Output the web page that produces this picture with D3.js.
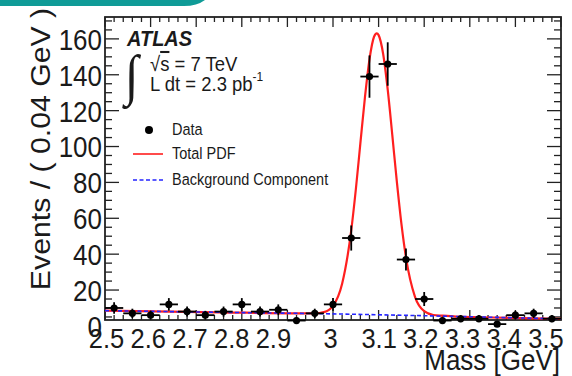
<!DOCTYPE html>
<html>
<head>
<meta charset="utf-8">
<script src="https://cdn.jsdelivr.net/npm/d3@7"></script>
<style>
body { margin: 0; background: #fff; }
text { font-family: "Liberation Sans", Arial, sans-serif; fill: #1a1a1a; }
</style>
</head>
<body>
<div id="chart"></div>
<script>
// data
var massBins = [2.52, 2.56, 2.60, 2.64, 2.68, 2.72, 2.76, 2.80, 2.84, 2.88, 2.92, 2.96, 3.00,
                3.04, 3.08, 3.12, 3.16, 3.20, 3.24, 3.28, 3.32, 3.36, 3.40, 3.44, 3.48];
var events = [10, 7, 6, 12, 8, 6, 8, 12, 8, 9, 3, 7, 12,
              49, 139, 146, 37, 15, 3, 4, 4, 1, 6, 7, 4];
var eventErrors = [3.2, 2.6, 2.4, 3.5, 2.8, 2.4, 2.8, 3.5, 2.8, 3.0, 1.7, 2.6, 3.5,
                   7.0, 11.8, 12.1, 6.1, 3.9, 1.7, 2.0, 2.0, 1.0, 2.4, 2.6, 2.0];
var binHalfWidth = 0.02;

var pdfMass = [2.50, 2.75, 2.96, 2.98, 3.00, 3.02, 3.04, 3.05, 3.06, 3.07, 3.08, 3.09, 3.096,
               3.10, 3.11, 3.12, 3.13, 3.14, 3.15, 3.16, 3.18, 3.20, 3.22, 3.24, 3.27, 3.35, 3.50];
var pdfTotal = [8.5, 7.6, 7.0, 7.7, 11.2, 23.5, 53.3, 75.9, 101.7, 127.3, 148.6, 161.2, 163.1,
                162.1, 151.6, 131.7, 106.5, 80.4, 57.0, 38.2, 16.1, 8.2, 6.1, 5.7, 5.2, 4.7, 3.9];

var bkgMass = [2.50, 2.75, 3.00, 3.25, 3.50];
var bkgEvents = [8.5, 7.6, 6.7, 5.4, 3.9];

var xTickValues = [2.5, 2.6, 2.7, 2.8, 2.9, 3.0, 3.1, 3.2, 3.3, 3.4, 3.5];
var yTickValues = [0, 20, 40, 60, 80, 100, 120, 140, 160];

var W = 572, H = 376;
var SY = 1.12; // the picture is slightly stretched vertically
var frame = { left: 105, right: 561, top: 17, bottom: 320 };
var yLo = 3.3, yHi = 172.2;

var svg = d3.select("#chart").append("svg")
    .attr("width", W).attr("height", H);

var x = d3.scaleLinear().domain([2.5, 3.5]).range([frame.left, frame.right]);
var y = d3.scaleLinear().domain([yLo, yHi]).range([frame.bottom, frame.top]);

// teal tab at the top
svg.append("path")
    .attr("d", "M0,0H205Q197,6 184,6H0Z")
    .attr("fill", "#0f9b97");

function stretchedText(g, px, py, str) {
    return g.append("text")
        .attr("transform", "translate(" + px + "," + py + ") scale(1," + SY + ")")
        .text(str);
}

// ticks (inward, ROOT style)
var ticks = svg.append("g").attr("stroke", "#222").attr("stroke-width", 1.3);
d3.range(0, 51).forEach(function(i) {
    var v = 2.5 + i * 0.02;
    var len = (i % 5 === 0) ? 10 : 5;
    ticks.append("line").attr("x1", x(v)).attr("x2", x(v))
        .attr("y1", frame.bottom).attr("y2", frame.bottom - len);
    ticks.append("line").attr("x1", x(v)).attr("x2", x(v))
        .attr("y1", frame.top).attr("y2", frame.top + len);
});
d3.range(5, 171, 5).forEach(function(v) {
    var len = (v % 20 === 0) ? 14 : 7;
    ticks.append("line").attr("y1", y(v)).attr("y2", y(v))
        .attr("x1", frame.left).attr("x2", frame.left + len);
    ticks.append("line").attr("y1", y(v)).attr("y2", y(v))
        .attr("x1", frame.right).attr("x2", frame.right - len);
});

svg.append("rect")
    .attr("x", frame.left).attr("y", frame.top)
    .attr("width", frame.right - frame.left).attr("height", frame.bottom - frame.top)
    .attr("fill", "none").attr("stroke", "#222").attr("stroke-width", 1.8);

// x tick labels sit a little left of their ticks in the picture
function xLabelPos(v) {
    if (v < 2.95) return x(2.5) + 1 + (x(v) - x(2.5)) * 0.915;
    if (v < 3.05) return x(v) - 3;
    return x(3.1) + (x(v) - x(3.1)) * 0.915;
}

var xAxis = svg.append("g")
    .attr("transform", "translate(0," + frame.bottom + ")")
    .call(d3.axisBottom(x).tickValues(xTickValues).tickSize(0)
        .tickFormat(function(d) { return d3.format("~g")(+d.toFixed(1)); }));
xAxis.select(".domain").remove();
xAxis.selectAll("text")
    .attr("y", 0).attr("dy", 0)
    .attr("font-size", 25.5).attr("fill", "#1a1a1a")
    .attr("font-family", "Liberation Sans, Arial, sans-serif")
    .attr("transform", function(d) {
        return "translate(" + (xLabelPos(d) - x(d)) + ",28) scale(1," + SY + ")";
    });

var yAxis = svg.append("g")
    .attr("transform", "translate(" + frame.left + ",0)")
    .call(d3.axisLeft(y).tickValues(yTickValues).tickSize(0));
yAxis.select(".domain").remove();
yAxis.selectAll("text")
    .attr("x", 0).attr("dy", 0)
    .attr("font-size", 26).attr("fill", "#1a1a1a")
    .attr("font-family", "Liberation Sans, Arial, sans-serif")
    .attr("transform", "translate(-3,10.4) scale(1," + SY + ")");

// axis titles
svg.append("text")
    .attr("transform", "translate(50,149) scale(1," + SY + ") rotate(-90)")
    .attr("text-anchor", "middle")
    .attr("font-size", 27)
    .text("Events / ( 0.04 GeV )");

stretchedText(svg, 560, 370, "Mass [GeV]")
    .attr("text-anchor", "end").attr("font-size", 26);

// curves
var line = d3.line().curve(d3.curveMonotoneX);
svg.append("path")
    .attr("d", line(pdfMass.map(function(m, i) { return [x(m), y(pdfTotal[i])]; })))
    .attr("fill", "none").attr("stroke", "#ff1f1f").attr("stroke-width", 2.2);
svg.append("path")
    .attr("d", line(bkgMass.map(function(m, i) { return [x(m), y(bkgEvents[i])]; })))
    .attr("fill", "none").attr("stroke", "#2424ff").attr("stroke-width", 1.6)
    .attr("stroke-dasharray", "4,2.5");

// data points with error bars
var pts = svg.append("g").selectAll("g")
    .data(massBins.map(function(m, i) { return { m: m, n: events[i], e: eventErrors[i] }; }))
    .enter().append("g");
pts.append("line")
    .attr("x1", function(d) { return x(d.m - binHalfWidth); })
    .attr("x2", function(d) { return x(d.m + binHalfWidth); })
    .attr("y1", function(d) { return y(d.n); })
    .attr("y2", function(d) { return y(d.n); })
    .attr("stroke", "#000").attr("stroke-width", 1.8);
pts.append("line")
    .attr("x1", function(d) { return x(d.m); })
    .attr("x2", function(d) { return x(d.m); })
    .attr("y1", function(d) { return y(d.n - d.e); })
    .attr("y2", function(d) { return y(d.n + d.e); })
    .attr("stroke", "#000").attr("stroke-width", 1.8);
pts.append("circle")
    .attr("cx", function(d) { return x(d.m); })
    .attr("cy", function(d) { return y(d.n); })
    .attr("r", 3.6).attr("fill", "#000");

// ATLAS label
stretchedText(svg, 127, 46, "ATLAS")
    .attr("font-size", 20).attr("font-weight", "bold").attr("font-style", "italic").attr("fill", "#000");
stretchedText(svg, 125, 94, "\u222B").attr("font-size", 50)
    .style("font-family", "'Liberation Serif', 'DejaVu Serif', serif");
var sqrtS = stretchedText(svg, 150, 71, "\u221A").attr("font-size", 18.5);
sqrtS.append("tspan").attr("text-decoration", "overline").text("s");
sqrtS.append("tspan").text(" = 7 TeV");
var lumi = stretchedText(svg, 150, 91, "L dt = 2.3 pb").attr("font-size", 18.5);
lumi.append("tspan").attr("dy", -9).attr("font-size", 12).text("-1");

// legend
var legend = svg.append("g");
legend.append("circle").attr("cx", 149).attr("cy", 130).attr("r", 4).attr("fill", "#000");
legend.append("line").attr("x1", 133).attr("x2", 163).attr("y1", 154).attr("y2", 154)
    .attr("stroke", "#ff1f1f").attr("stroke-width", 1.6);
legend.append("line").attr("x1", 133).attr("x2", 163).attr("y1", 180).attr("y2", 180)
    .attr("stroke", "#2424ff").attr("stroke-width", 1.6).attr("stroke-dasharray", "4,2.5");
[["Data", 135], ["Total PDF", 159], ["Background Component", 185]].forEach(function(r) {
    stretchedText(legend, 172, r[1], r[0]).attr("font-size", 14.5).attr("fill", "#1a1a30");
});
</script>
</body>
</html>
